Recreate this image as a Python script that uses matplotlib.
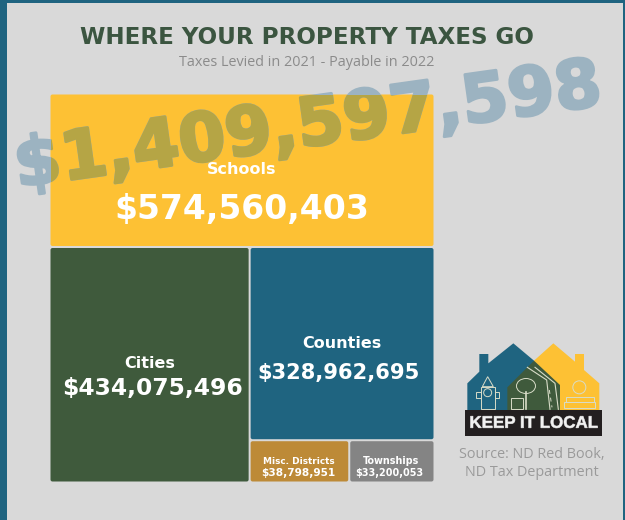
"""Property tax treemap, North Dakota, taxes levied 2021."""
import matplotlib
matplotlib.use("Agg")
import matplotlib.pyplot as plt
import matplotlib.patheffects as pe
from matplotlib.patches import FancyBboxPatch, Polygon, Rectangle, Circle, Ellipse

# ── data ─────────────────────────────────────────────────────────────────────
names = ["Schools", "Cities", "Counties", "Misc. Districts", "Townships"]
values = [574560403, 434075496, 328962695, 38798951, 33200053]
total_label = "$1,409,597,598"

# ── style ─────────────────────────────────────────────────────────────────────
C_BG = "#d9d9d9"
C_TEAL = "#1f6480"
C_GREEN = "#3f5a3c"
C_YELLOW = "#fdc134"
C_ORANGE = "#bd8a37"
C_GREY = "#848484"
colors = [C_YELLOW, C_GREEN, C_TEAL, C_ORANGE, C_GREY]
C_LINE = "#d8dcc8"

fig = plt.figure(figsize=(6.25, 5.2), dpi=100)
fig.patch.set_facecolor(C_BG)
ax = fig.add_axes([0, 0, 1, 1])
ax.set_xlim(0, 625)
ax.set_ylim(520, 0)
ax.axis("off")

# frame
ax.add_patch(Rectangle((0, 0), 6.5, 520, fc=C_TEAL, ec="none"))
ax.add_patch(Rectangle((0, 0), 625, 2.5, fc=C_TEAL, ec="none"))
ax.add_patch(Rectangle((623, 0), 2, 520, fc=C_TEAL, ec="none"))

# ── treemap layout, worked out from the values ───────────────────────────────
X0, Y0, W, H = 49.5, 93.5, 385.0, 389.0
rest = sum(values[1:])
h_schools = 153.5  # the picture's top row is a little short of proportional
h_rest = H - h_schools
w_cities = W * values[1] / rest
w_right = W - w_cities
small = values[3] + values[4]
h_counties = h_rest * values[2] / (values[2] + small)
w_misc = w_right * values[3] / small

cells = [
    (X0, Y0, W, h_schools),
    (X0, Y0 + h_schools, w_cities, h_rest),
    (X0 + w_cities, Y0 + h_schools, w_right, h_counties),
    (X0 + w_cities, Y0 + h_schools + h_counties, w_misc, h_rest - h_counties),
    (X0 + w_cities + w_misc, Y0 + h_schools + h_counties, w_right - w_misc, h_rest - h_counties),
]
GAP = 1.0
for (x, y, w, h), c in zip(cells, colors):
    ax.add_patch(FancyBboxPatch((x + GAP + 1, y + GAP + 1), w - 2 * GAP - 2, h - 2 * GAP - 2,
                                boxstyle="round,pad=1,rounding_size=2", fc=c, ec="none", zorder=2))

# ── title ────────────────────────────────────────────────────────────────────
ax.text(307, 37.5, "WHERE YOUR PROPERTY TAXES GO", ha="center", va="center",
        fontsize=16.6, fontweight="bold", color="#3b5540", family="DejaVu Sans")
ax.text(307, 62, "Taxes Levied in 2021 - Payable in 2022", ha="center", va="center",
        fontsize=10.4, color="#8b8b8b", family="Open Sans")

# ── cell labels ──────────────────────────────────────────────────────────────
label_kw = dict(ha="center", va="center", color="white", zorder=5, family="DejaVu Sans")
money = [f"${v:,}" for v in values]
ax.text(242, 169, names[0], fontsize=11.5, fontweight="bold", **label_kw)
ax.text(242, 209, money[0], fontsize=23.8, fontweight="bold", **label_kw)
ax.text(150, 364, names[1], fontsize=11.5, fontweight="bold", **label_kw)
ax.text(152, 389, money[1], fontsize=16.8, fontweight="bold", **label_kw)
ax.text(342, 343, names[2], fontsize=11.5, fontweight="bold", **label_kw)
ax.text(339, 373, money[2], fontsize=15.1, fontweight="bold", **label_kw)
ax.text(299, 461, names[3], fontsize=6.4, fontweight="bold", **label_kw)
ax.text(298, 473, money[3], fontsize=7.6, fontweight="bold", **label_kw)
ax.text(391, 461, names[4], fontsize=6.9, fontweight="bold", **label_kw)
ax.text(389, 473, money[4], fontsize=6.9, fontweight="bold", **label_kw)

# ── rotated total: one flat colour on the grey, another where it crosses yellow ─
total_kw = dict(ha="center", va="center", rotation=8, rotation_mode="anchor", fontsize=48.5,
                fontweight="bold", family="DejaVu Sans", zorder=4)
ax.text(308, 127, total_label, color="#9cb3c1",
        path_effects=[pe.Stroke(linewidth=2, foreground="#9cb3c1")], **total_kw)
over = ax.text(308, 127, total_label, color="#b5a545",
               path_effects=[pe.Stroke(linewidth=2, foreground="#b5a545")], **total_kw)
over.set_clip_on(True)
over.set_clip_path(Rectangle((X0 + 1, Y0 + 1), W - 2, h_schools - 2, transform=ax.transData))


def z(pts):
    return [(440 + px / 3, 330 + py / 3) for px, py in pts]


ax.add_patch(Polygon(z([(82, 240), (82, 160), (118, 125), (118, 72), (145, 72), (145, 100),
                        (220, 40), (282, 92), (282, 240)]), fc=C_TEAL, ec="none", zorder=3))
ax.add_patch(Polygon(z([(282, 92), (340, 40), (405, 95), (405, 72), (432, 72), (432, 120),
                        (478, 160), (478, 240), (282, 240)]), fc=C_YELLOW, ec="none", zorder=3))
ax.add_patch(Polygon(z([(202, 240), (202, 172), (282, 92), (360, 165), (360, 240)]),
                     fc=C_GREEN, ec="none", zorder=3))
ax.add_patch(Rectangle((440 + 75 / 3, 330 + 240 / 3), 412 / 3, 78 / 3, fc="#231f20", ec="none", zorder=3))
ax.text(440 + 281 / 3, 330 + 280 / 3, "KEEP IT LOCAL", ha="center", va="center", color="#f2f2f2",
        fontsize=12.2, fontweight="bold", family="Liberation Sans", zorder=4,
        path_effects=[pe.Stroke(linewidth=0.4, foreground="#f2f2f2")])

line_kw = dict(fc="none", ec=C_LINE, lw=0.7, zorder=4)
# hydrant
ax.add_patch(Polygon(z([(122, 236), (122, 172), (165, 172), (165, 236)]), **line_kw))
ax.add_patch(Polygon(z([(108, 186), (122, 186), (122, 204), (108, 204)]), **line_kw))
ax.add_patch(Polygon(z([(165, 186), (178, 186), (178, 204), (165, 204)]), **line_kw))
ax.add_patch(Polygon(z([(127, 170), (143, 140), (160, 170)]), **line_kw))
ax.add_patch(Circle((440 + 143 / 3, 330 + 188 / 3), 4, **line_kw))
# tree and bench
ax.add_patch(Ellipse((440 + 258 / 3, 330 + 168 / 3), 19, 15, **line_kw))
ax.plot(*zip(*z([(258, 185), (258, 238)])), color=C_LINE, lw=1.2, zorder=4)
ax.add_patch(Polygon(z([(212, 204), (250, 204), (250, 238), (212, 238)]), **line_kw))
# road
ax.plot(*zip(*z([(262, 112), (320, 150), (330, 238)])), color=C_LINE, lw=0.8, zorder=4)
ax.plot(*zip(*z([(285, 112), (345, 160), (355, 238)])), color=C_LINE, lw=0.8, zorder=4)
ax.plot(*zip(*z([(328, 180), (336, 232)])), color=C_LINE, lw=0.7, ls=(0, (4, 4)), zorder=4)
# apple and books
ax.add_patch(Ellipse((440 + 418 / 3, 330 + 172 / 3), 13, 13, **line_kw))
ax.add_patch(Rectangle((440 + 378 / 3, 330 + 200 / 3), 84 / 3, 15 / 3, **line_kw))
ax.add_patch(Rectangle((440 + 372 / 3, 330 + 216 / 3), 92 / 3, 18 / 3, **line_kw))

ax.text(532, 454, "Source: ND Red Book,", ha="center", va="center", fontsize=10.4,
        color="#9a9a9a", family="Open Sans")
ax.text(532, 473, "ND Tax Department", ha="center", va="center", fontsize=10.4,
        color="#9a9a9a", family="Open Sans")

fig.savefig("out.png", dpi=100, facecolor=C_BG)
